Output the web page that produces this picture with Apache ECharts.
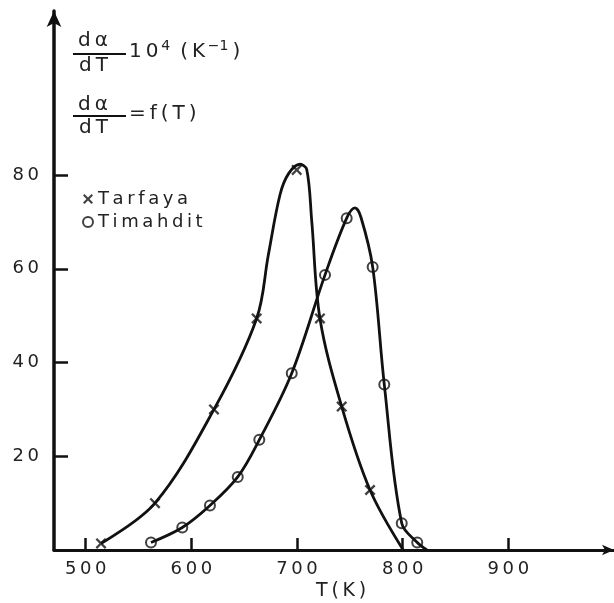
<!DOCTYPE html>
<html>
<head>
<meta charset="utf-8">
<script src="https://cdn.jsdelivr.net/npm/echarts@6/dist/echarts.min.js"></script>
<style>
  html, body { margin: 0; padding: 0; background: #fff; }
  #chart { width: 614px; height: 603px; }
</style>
</head>
<body>
<div id="chart"></div>
<script>
// tick labels
const xTicks = [500, 600, 700, 800, 900];
const yTicks = [20, 40, 60, 80];

// measured points (markers)
const tarfayaT = [514.5, 565.6, 621.4, 661.8, 699.7, 721.7, 742.3, 769.1];
const tarfayaV = [1.4, 10, 30, 49.4, 81.1, 49.4, 30.6, 12.8];
const timahditT = [561.8, 591.4, 617.6, 643.9, 664.3, 695, 726.5, 747, 771.6, 782.6, 799.1, 813.8];
const timahditV = [1.6, 4.8, 9.5, 15.6, 23.5, 37.7, 58.7, 70.8, 60.4, 35.3, 5.7, 1.6];

// hand drawn curves
const tarfayaCurveT = [514.5, 565.6, 621.4, 661.8, 672.8, 683.9, 692, 702.8, 709.2, 713.9, 721.7, 742.3, 769.1, 800.5];
const tarfayaCurveV = [1.4, 10, 30, 49.4, 62.9, 75.8, 80.3, 82.3, 81.2, 70.3, 49.4, 30.6, 12.8, 0];
const timahditCurveT = [561.8, 591.4, 617.6, 643.9, 664.3, 695, 726.5, 747, 754.9, 760.5, 771.6, 782.6, 799.1, 813.8, 823];
const timahditCurveV = [1.6, 4.8, 9.5, 15.6, 23.5, 37.7, 58.7, 70.8, 73.0, 71.0, 60.4, 35.3, 5.7, 1.6, 0];

const pairs = (xs, ys) => xs.map((x, i) => [x, ys[i]]);
const spaced = v => String(v).split('').join('\u2009');

const ink = '#111';
const font = 'DejaVu Sans';
const crossPath = 'path://M0,1.5L1.5,0L5,3.5L8.5,0L10,1.5L6.5,5L10,8.5L8.5,10L5,6.5L1.5,10L0,8.5L3.5,5Z';

const chart = echarts.init(document.getElementById('chart'));

const option = {
  backgroundColor: '#fff',
  animation: false,
  grid: { left: 54, right: 0, top: 11, bottom: 53 },
  xAxis: {
    type: 'value',
    min: 470,
    max: 1000,
    splitLine: { show: false },
    axisLine: {
      lineStyle: { color: ink, width: 3 },
      symbol: ['none', 'arrow'],
      symbolSize: [8, 12]
    },
    axisTick: { inside: true, length: 12, lineStyle: { color: ink, width: 2.5 }, customValues: xTicks },
    axisLabel: {
      customValues: xTicks,
      formatter: v => spaced(v),
      color: '#222',
      fontFamily: font,
      fontSize: 18,
      margin: 10
    }
  },
  yAxis: {
    type: 'value',
    min: 0,
    max: 115,
    splitLine: { show: false },
    axisLine: {
      lineStyle: { color: ink, width: 3.5 },
      symbol: ['none', 'arrow'],
      symbolSize: [11, 16]
    },
    axisTick: { inside: true, length: 14, lineStyle: { color: ink, width: 2.5 }, customValues: yTicks },
    axisLabel: {
      customValues: yTicks,
      formatter: v => spaced(v),
      color: '#222',
      fontFamily: font,
      fontSize: 18,
      margin: 15
    }
  },
  legend: {
    data: ['Tarfaya', 'Timahdit'],
    orient: 'vertical',
    left: 77,
    top: 185,
    itemWidth: 10,
    itemHeight: 10,
    itemGap: 5,
    formatter: name => spaced(name),
    textStyle: { color: '#222', fontFamily: font, fontSize: 18 }
  },
  graphic: [
    { type: 'text', left: 78, top: 31, style: { text: 'd\u2009α', font: '20px "DejaVu Sans"', fill: '#222' } },
    { type: 'line', shape: { x1: 73, y1: 54, x2: 126, y2: 54 }, style: { stroke: ink, lineWidth: 2 } },
    { type: 'text', left: 79, top: 56, style: { text: 'd\u2009T', font: '20px "DejaVu Sans"', fill: '#222' } },
    {
      type: 'text', left: 129, top: 39,
      style: {
        text: '1\u20090{s|\u20094}\u2002(\u2009K{s|\u2009−1}\u2009)',
        font: '20px "DejaVu Sans"', fill: '#222', lineHeight: 26,
        rich: { s: { fontSize: 14, fontFamily: font, verticalAlign: 'top', lineHeight: 24 } }
      }
    },
    { type: 'text', left: 78, top: 95, style: { text: 'd\u2009α', font: '20px "DejaVu Sans"', fill: '#222' } },
    { type: 'line', shape: { x1: 73, y1: 116, x2: 126, y2: 116 }, style: { stroke: ink, lineWidth: 2 } },
    { type: 'text', left: 79, top: 118, style: { text: 'd\u2009T', font: '20px "DejaVu Sans"', fill: '#222' } },
    { type: 'text', left: 129, top: 104, style: { text: '=\u2009f\u2009(\u2009T\u2009)', font: '20px "DejaVu Sans"', fill: '#222' } },
    { type: 'text', left: 316, top: 582, style: { text: 'T\u2009(\u2009K\u2009)', font: '19px "DejaVu Sans"', fill: '#222' } }
  ],
  series: [
    {
      name: 'Tarfaya curve',
      type: 'line',
      data: pairs(tarfayaCurveT, tarfayaCurveV),
      showSymbol: false,
      smooth: 0.35,
      lineStyle: { color: ink, width: 2.8 }
    },
    {
      name: 'Timahdit curve',
      type: 'line',
      data: pairs(timahditCurveT, timahditCurveV),
      showSymbol: false,
      smooth: 0.35,
      lineStyle: { color: ink, width: 2.8 }
    },
    {
      name: 'Tarfaya',
      type: 'scatter',
      data: pairs(tarfayaT, tarfayaV),
      symbol: crossPath,
      symbolSize: 11,
      itemStyle: { color: ink }
    },
    {
      name: 'Timahdit',
      type: 'scatter',
      data: pairs(timahditT, timahditV),
      symbol: 'circle',
      symbolSize: 10,
      itemStyle: { color: '#fff', borderColor: ink, borderWidth: 2 }
    }
  ]
};

chart.setOption(option);
</script>
</body>
</html>
